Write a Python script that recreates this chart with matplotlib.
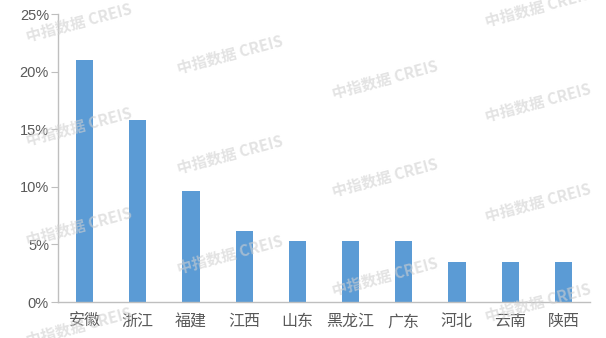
import matplotlib
matplotlib.use('Agg')
import matplotlib.pyplot as plt
import numpy as np

plt.rcParams['font.family'] = ['Noto Sans CJK SC', 'DejaVu Sans']

# share of projects by province (%)
provinces = ['安徽', '浙江', '福建', '江西', '山东', '黑龙江', '广东', '河北', '云南', '陕西']
share = [21.05, 15.79, 9.65, 6.14, 5.26, 5.26, 5.26, 3.51, 3.51, 3.51]
yticks = [0, 5, 10, 15, 20, 25]
ytick_labels = ['0%', '5%', '10%', '15%', '20%', '25%']

fig = plt.figure(figsize=(6.06, 3.38), dpi=100)
ax = fig.add_axes([58/606, 1-302/338, 532/606, 288/338])

x = np.arange(len(provinces))
ax.bar(x, share, width=0.32, color='#5B9BD5', zorder=2)

ax.set_xlim(-0.5, len(provinces)-0.5)
ax.set_ylim(0, 25)
ax.set_yticks(yticks)
ax.set_yticklabels(ytick_labels, fontfamily='Liberation Sans')
ax.set_xticks(x)
ax.set_xticklabels(provinces)

for s in ['top', 'right']:
    ax.spines[s].set_visible(False)
for s in ['left', 'bottom']:
    ax.spines[s].set_color('#BFBFBF')
    ax.spines[s].set_linewidth(1)
ax.tick_params(axis='y', length=5, color='#BFBFBF', pad=1.5, labelsize=10.5, labelcolor='#595959')
ax.tick_params(axis='x', length=0, pad=8, labelsize=11.5, labelcolor='#595959')

# watermark
marks = [(79, 23), (79, 127), (79, 227), (79, 327),
         (230, 55), (230, 155), (230, 255),
         (385, 80), (385, 178), (385, 277),
         (538, 8), (538, 103), (538, 203), (538, 303)]
for mx, my in marks:
    fig.text(mx/606, 1-my/338, '中指数据 CREIS', fontsize=11, fontweight='bold',
             color='#D0D0D0', alpha=0.6, rotation=15, ha='center', va='center', zorder=5)

fig.savefig('out.png', dpi=100)
